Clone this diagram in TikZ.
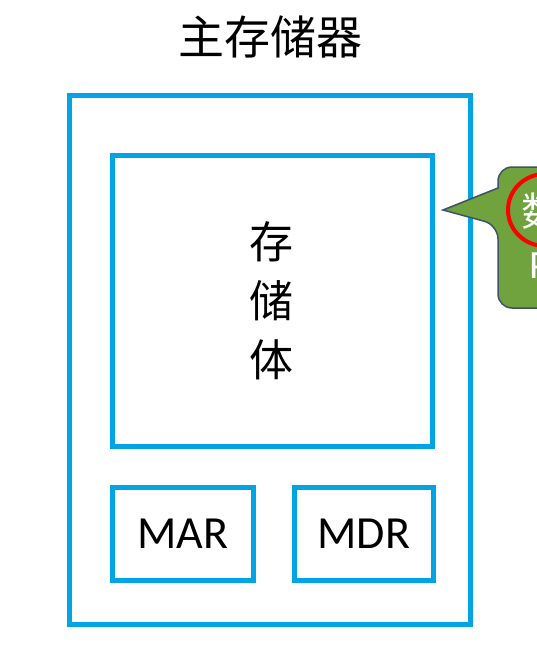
\documentclass[tikz,border=0pt]{standalone}
\usepackage{fontspec}
\setmainfont{Carlito}
\newfontfamily\cjk{Noto Sans CJK SC}
\usetikzlibrary{positioning}
\definecolor{memblue}{RGB}{0,164,228}
\definecolor{tipgreen}{RGB}{112,162,62}
\definecolor{tipedge}{RGB}{62,82,104}
\tikzstyle{membox} = [draw=memblue, line width=5pt, inner sep=0pt,
    outer sep=0pt]
\tikzstyle{regbox} = [membox, minimum height=92.5pt, font=\fontsize{46}{46}\selectfont]

\begin{document}
\begin{tikzpicture}[x=1pt, y=-1pt]
  \useasboundingbox (0,0) rectangle (537,669);
  % Place nodes
  \node (title) at (270,37) {\cjk\fontsize{46}{46}\selectfont 主存储器};
  \node [membox, minimum width=400.5pt, minimum height=529pt] (mem) at (270,360) {};
  \node [membox, minimum width=320pt, minimum height=290.5pt] (body) at (272.5,300.75)
  {};
  \node [align=center, font=\cjk\fontsize{44}{59}\selectfont] (bodytxt) at (271,301)
  {存\\储\\体};
  \node [regbox, minimum width=140.5pt] (mar) at (182.75,533.75) {MAR};
  \node [regbox, minimum width=138.5pt] (mdr) at (363.75,533.75) {MDR};
  % callout at the right edge
  \begin{scope}
    \clip (0,0) rectangle (537,669);
    \draw [fill=tipgreen, draw=tipedge, line width=1.5pt, rounded corners=14pt]
      (498,225) [sharp corners] -- (443,210) -- (498,188) [rounded corners=14pt]
      -- (498,167) -- (620,167) -- (620,308) -- (498,308) -- cycle;
    \node [anchor=west, white, font=\cjk\fontsize{40}{40}\selectfont] (tiptxt) at (518,211) {数};
    \node [anchor=west, white, font=\fontsize{40}{40}\selectfont] (tiptxt2) at (526,266) {P};
    \draw [red, line width=4pt] (545,210) ellipse [x radius=37pt, y radius=36pt];
  \end{scope}
\end{tikzpicture}
\end{document}
